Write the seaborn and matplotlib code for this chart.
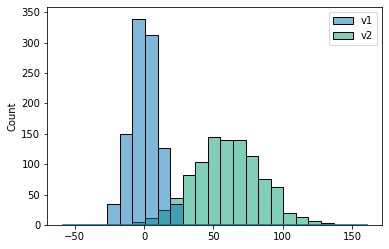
import numpy as np
import pandas as pd
import matplotlib
matplotlib.use("Agg")
import matplotlib.pyplot as plt
import seaborn as sns

# Data
bin_edges = [-26.5, -17.4, -8.4, 0.7, 9.8, 18.8, 27.9, 36.9, 46.0, 55.1,
             64.1, 73.2, 82.3, 91.3, 100.4, 109.5, 118.5, 127.6, 136.7]
v1_counts = [35, 150, 338, 312, 127, 35, 0, 0, 0, 0, 0, 0, 0, 0, 0, 0, 0, 0]
v2_counts = [0, 0, 5, 12, 24, 45, 82, 104, 145, 139, 139, 114, 76, 63, 20, 13, 7, 4]
series_names = ["v1", "v2"]
data_range = [-58.7, 160.7]   # full extent of the data (flat zero line)

centers = [(a + b) / 2 for a, b in zip(bin_edges[:-1], bin_edges[1:])]
df = pd.DataFrame({
    "value": centers * 2,
    "count": v1_counts + v2_counts,
    "series": [series_names[0]] * len(centers) + [series_names[1]] * len(centers),
})

fig = plt.figure(figsize=(389 / 72, 249 / 72), dpi=72)
ax = fig.add_axes([0.1216, 0.0964, 0.8612, 0.8743])

sns.histplot(data=df, x="value", weights="count", hue="series",
             hue_order=series_names, bins=bin_edges, alpha=0.5,
             palette={"v1": "#0173b2", "v2": "#029e73"}, ax=ax)

sns.lineplot(x=data_range, y=[0, 0], color="#0173b2", linewidth=1.6,
             ax=ax, zorder=5)

ax.set_xlabel("")
ax.set_ylabel("Count")
ax.set_xticks([-50, 0, 50, 100, 150])
ax.set_yticks([0, 50, 100, 150, 200, 250, 300, 350])
ax.set_xlim(-69.7, 171.7)
ax.set_ylim(0, 358)
leg = ax.get_legend()
leg.set_title(None)
sns.move_legend(ax, "upper right", title=None)

fig.savefig("out.png", dpi=72)
